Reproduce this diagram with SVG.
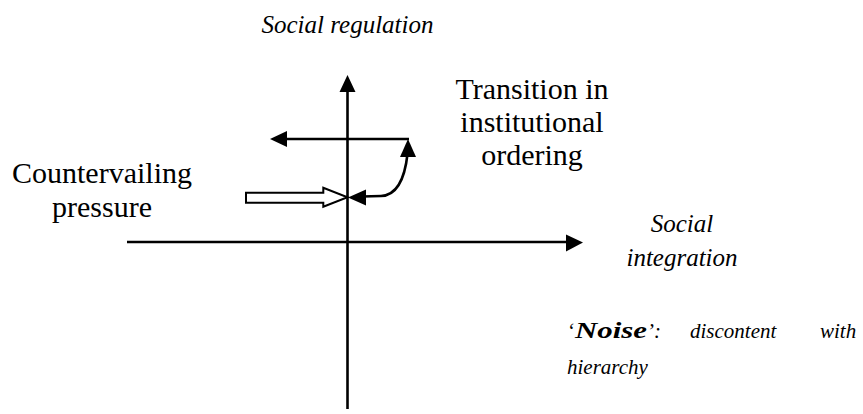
<svg xmlns="http://www.w3.org/2000/svg" width="863" height="414" viewBox="0 0 863 414">
<style>
.ax{stroke:#000;stroke-width:2.6;fill:none}
.hd{fill:#000;stroke:none}
text{font-family:"Liberation Serif","Times New Roman",serif;fill:#000}
.t{font-size:30px;text-anchor:middle}
.i{font-size:25px;font-style:italic;text-anchor:middle}
.n{font-size:21px;font-style:italic}
</style>
<rect width="863" height="414" fill="#fff"/>
<g id="connectors">
  <line class="ax" x1="347.5" y1="88" x2="347.5" y2="409"/>
  <polygon class="hd" points="347.5,75 339.5,92 355.5,92"/>
  <line class="ax" x1="127" y1="242" x2="570" y2="242"/>
  <polygon class="hd" points="583,242.5 566,234.5 566,251.5"/>
  <line class="ax" x1="284" y1="139" x2="409" y2="139"/>
  <polygon class="hd" points="270,139 287,131 287,147"/>
  <path class="ax" d="M407.5 154 Q403 195 381 196 L362 196.5"/>
  <polygon class="hd" points="408,139 400,157 416,157"/>
  <polygon class="hd" points="348,197.5 366,189.5 366,205.5"/>
  <polygon points="246,192.7 323.3,192.7 323.3,187.7 347.5,197.3 323.3,206.7 323.3,202.7 246,202.7" fill="#fff" stroke="#000" stroke-width="2"/>
</g>
<g id="social-regulation"><text class="i" x="347.5" y="33">Social regulation</text></g>
<g id="transition"><text class="t" x="532" y="99">Transition in</text><text class="t" x="532" y="132">institutional</text><text class="t" x="532" y="165">ordering</text></g>
<g id="countervailing"><text class="t" x="102" y="183">Countervailing</text><text class="t" x="102" y="217">pressure</text></g>
<g id="social-integration"><text class="i" x="682" y="232">Social</text><text class="i" x="682" y="266">integration</text></g>
<g id="noise">
  <text class="n" y="338"><tspan x="567">‘</tspan><tspan font-weight="bold" font-size="23" x="575" textLength="72" lengthAdjust="spacingAndGlyphs">Noise</tspan><tspan>’:</tspan><tspan x="690">discontent</tspan><tspan x="820">with</tspan></text>
  <text class="n" x="567" y="374">hierarchy</text>
</g>
</svg>
